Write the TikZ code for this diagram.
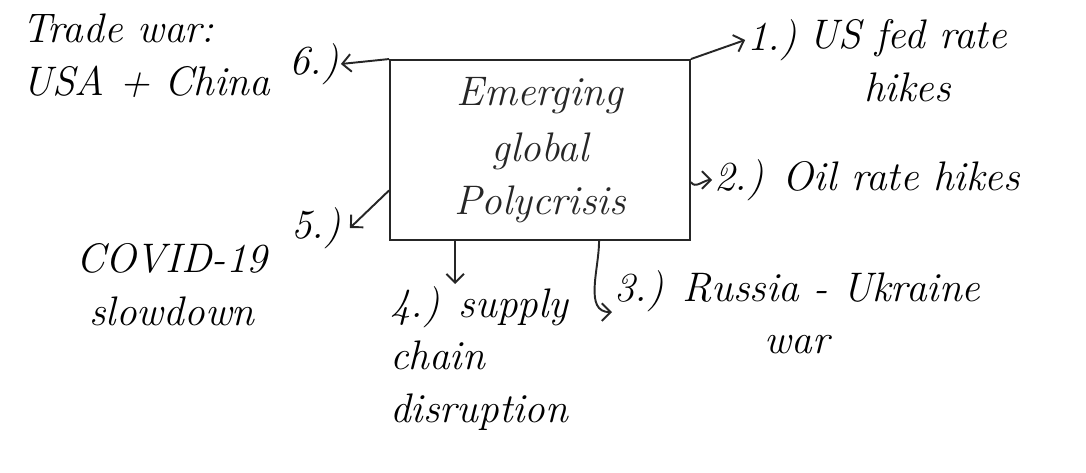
\documentclass[tikz,border=0pt]{standalone}
\usetikzlibrary{arrows.meta, positioning}

\begin{document}
\begin{tikzpicture}[
    x=0.02cm, y=-0.02cm,
    >={Straight Barb[length=5pt]},
    ink/.style={line width=1.1pt, black!85},
    note/.style={font=\fontsize{23.5}{30}\selectfont\itshape, inner sep=1pt},
    crisisbox/.style={draw, ink, minimum width=6cm, minimum height=3.6cm,
                      align=center, inner sep=2pt}
  ]
  \useasboundingbox (0,0) rectangle (1086,473);

  \node[crisisbox, note, draw] (crisis) at (540,150)
    {Emerging\\[2pt]global\\Polycrisis};

  % causes around the box
  \node[note] (n1) at (772,40) {1.)};
  \node[note, align=center, right=4pt of n1.east, anchor=north west,
        yshift=13pt] (t1) {US fed rate\\hikes};
  \node[note, anchor=west] (l2) at (712,180) {2.) Oil rate hikes};
  \node[note, anchor=north west, align=center] (l3) at (612,268)
    {3.) Russia - Ukraine\\war};
  \node[note, anchor=north west, align=left] (l4) at (388,284)
    {4.) supply\\chain\\disruption};
  \node[note] (n5) at (316,228) {5.)};
  \node[note, align=center] (t5) at (172,285) {COVID-19\\slowdown};
  \node[note] (n6) at (314,64) {6.)};
  \node[note, anchor=north west, align=left] (t6) at (20,12)
    {Trade war:\\USA + China};

  \draw[ink, ->] (crisis.north east) -- (n1.west);
  \draw[ink, ->] (crisis.-12) to[out=-60, in=180] (l2.west);
  \draw[ink, ->] (crisis.-57) to[out=-90, in=180] (l3.west);
  \draw[ink, ->] (crisis.-133) -- (crisis.-133 |- l4.north);
  \draw[ink, ->] (crisis.-165) -- ([xshift=4pt]n5.east);
  \draw[ink, ->] (crisis.north west) -- (n6.east);
\end{tikzpicture}
\end{document}
